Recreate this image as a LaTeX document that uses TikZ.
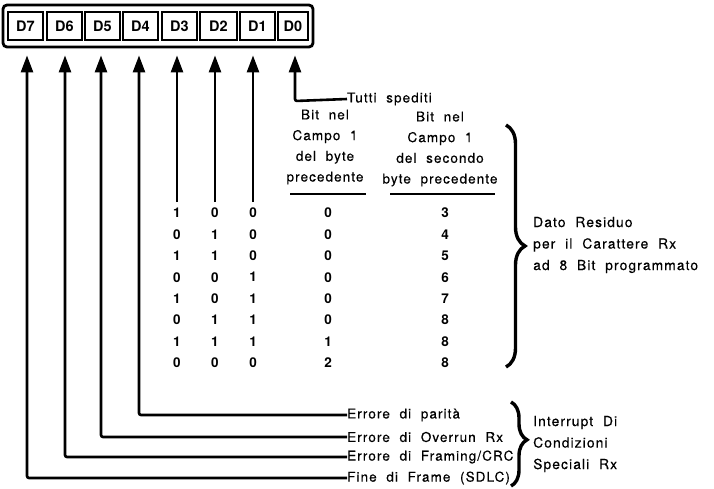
\documentclass[tikz,border=0pt]{standalone}
\usepackage{fontspec}
\setmainfont{TeX Gyre Heros}[LetterSpace=8,WordSpace=2,FakeBold=0.4]
\newfontfamily\digitfont{TeX Gyre Heros}[LetterSpace=0]
\usetikzlibrary{arrows.meta,decorations.pathreplacing}
\begin{document}
\begin{tikzpicture}[x=1pt,y=-1pt,
  cell/.style={draw,line width=2pt,minimum height=28pt,inner sep=0pt,font=\digitfont\fontsize{14.5}{14.5}\bfseries\selectfont},
  wire/.style={line width=2.6pt,rounded corners=2pt},
  arr/.style={wire,-{Triangle[length=17pt,width=12pt]},shorten >=7pt},
  lbl/.style={font=\fontsize{13.5}{13.5}\selectfont,inner sep=0pt,anchor=west},
  side/.style={font=\fontsize{13.8}{21.5}\selectfont,inner sep=0pt,anchor=west,align=left},
  num/.style={font=\digitfont\fontsize{13.5}{13.5}\bfseries\selectfont,inner sep=0pt},
  hdr/.style={font=\fontsize{13.5}{20.7}\selectfont,align=center,inner sep=0pt},
  brc/.style={line width=3.4pt,decorate}
]
\useasboundingbox (0,0) rectangle (714,488);
% register
\node (reg) [draw,rounded corners=4pt,line width=2.8pt,minimum width=310pt,minimum height=42pt,inner sep=0pt] at (158,26) {};
\node[cell,minimum width=35pt] (d7) at (25.5,26) {D7};
\node[cell,minimum width=35pt] (d6) at (64.5,26) {D6};
\node[cell,minimum width=35pt] (d5) at (102.5,26) {D5};
\node[cell,minimum width=35pt] (d4) at (140.5,26) {D4};
\node[cell,minimum width=35pt] (d3) at (179.5,26) {D3};
\node[cell,minimum width=37pt] (d2) at (218.5,26) {D2};
\node[cell,minimum width=35pt] (d1) at (257.5,26) {D1};
\node[cell,minimum width=30pt] (d0) at (293,26) {D0};

% D0 -> Tutti spediti
\node[lbl] (tut) at (347,99) {Tutti spediti};
\coordinate (k0) at (295,101);
\draw[arr] (tut.west) -- (k0) -- (k0 |- reg.south);

% D3..D1 short lines
\coordinate (k3) at (177,202);
\coordinate (k2) at (215,202);
\coordinate (k1) at (253,202);
\foreach \k in {k3,k2,k1} \draw[arr] (\k) -- (\k |- reg.south);

% bottom leads
\node[lbl] (e4) at (347,415) {Errore di parità};
\node[lbl] (e5) at (347,437) {Errore di Overrun Rx};
\node[lbl] (e6) at (347,457) {Errore di Framing/CRC};
\node[lbl] (e7) at (347,478) {Fine di Frame (SDLC)};
\coordinate (k4) at (139,415);
\coordinate (k5) at (101,437);
\coordinate (k6) at (65,457);
\coordinate (k7) at (27,478);
\draw[arr] (e4.west) -- (k4) -- (k4 |- reg.south);
\draw[arr] (e5.west) -- (k5) -- (k5 |- reg.south);
\draw[arr] (e6.west) -- (k6) -- (k6 |- reg.south);
\draw[arr] (e7.west) -- (k7) -- (k7 |- reg.south);

% headers
\node[hdr] (h1) at (325,147) {Bit nel\\Campo 1\\del byte\\precedente};
\node[hdr] (h2) at (440,149) {Bit nel\\Campo 1\\del secondo\\byte precedente};
\draw[line width=1.8pt] (290,194) -- (366,194);
\draw[line width=1.8pt] (390,194) -- (495,194);

% table
\foreach \a/\b/\c/\d/\e [count=\i] in {1/0/0/0/3,0/1/0/0/4,1/1/0/0/5,0/0/1/0/6,1/0/1/0/7,0/1/1/0/8,1/1/1/1/8,0/0/0/2/8}{
  \pgfmathsetmacro\yy{213+21.4*(\i-1)}
  \node[num] (r\i a) at (177,\yy) {\a};
  \node[num] (r\i b) at (215,\yy) {\b};
  \node[num] (r\i c) at (253,\yy) {\c};
  \node[num] (r\i d) at (328,\yy) {\d};
  \node[num] (r\i e) at (445,\yy) {\e};
}

% braces
\draw[brc,decoration={brace,amplitude=19pt,aspect=0.5}] (506,125) -- (506,367);
\node[side] (dato) at (533,245) {Dato Residuo\\per il Carattere Rx\\ad 8 Bit programmato};
\draw[brc,decoration={brace,amplitude=16pt,aspect=0.45}] (511,402) -- (511,486);
\node[side] (intr) at (533,444) {Interrupt Di\\Condizioni\\Speciali Rx};
\end{tikzpicture}
\end{document}
